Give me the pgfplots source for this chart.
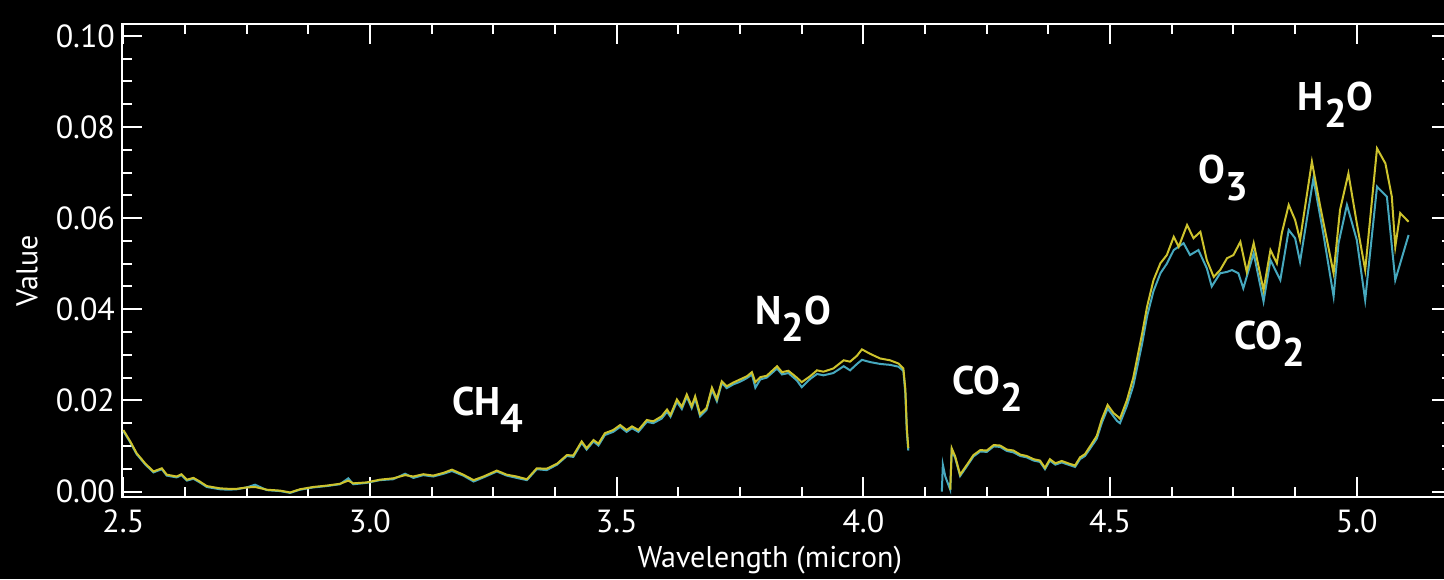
\documentclass[border=0pt]{standalone}
\usepackage{pgfplots}
\usepackage{pgfplotstable}
\pgfplotsset{compat=1.18}
\usetikzlibrary{backgrounds}
\usepackage{fontspec}
\setmainfont{PT Sans}
\definecolor{yel}{RGB}{205,195,45}
\definecolor{cya}{RGB}{70,168,190}
\newcommand{\sub}[1]{\raisebox{-8.5pt}{#1}}

\pgfplotstableread{
x y
2.500 0.0135
2.514 0.0110
2.527 0.0084
2.544 0.0062
2.561 0.0044
2.578 0.0051
2.588 0.0037
2.608 0.0033
2.618 0.0038
2.629 0.0026
2.642 0.0030
2.655 0.0022
2.669 0.0012
2.696 0.0007
2.713 0.0006
2.730 0.0006
2.750 0.0009
2.767 0.0010
2.791 0.0004
2.818 0.0002
2.838 -0.0002
2.858 0.0005
2.885 0.0010
2.912 0.0013
2.939 0.0017
2.956 0.0024
2.966 0.0018
2.993 0.0020
3.020 0.0026
3.047 0.0029
3.071 0.0036
3.088 0.0033
3.108 0.0038
3.128 0.0035
3.149 0.0041
3.166 0.0048
3.189 0.0037
3.210 0.0025
3.230 0.0033
3.257 0.0046
3.277 0.0037
3.297 0.0033
3.318 0.0027
3.338 0.0051
3.358 0.0050
3.379 0.0061
3.399 0.0080
3.412 0.0079
3.429 0.0110
3.439 0.0095
3.453 0.0113
3.463 0.0105
3.476 0.0128
3.493 0.0135
3.507 0.0146
3.520 0.0135
3.531 0.0143
3.544 0.0135
3.561 0.0157
3.574 0.0154
3.591 0.0165
3.602 0.0180
3.609 0.0168
3.622 0.0202
3.632 0.0186
3.642 0.0213
3.652 0.0187
3.659 0.0209
3.669 0.0170
3.682 0.0183
3.693 0.0228
3.703 0.0203
3.713 0.0242
3.723 0.0231
3.736 0.0239
3.750 0.0246
3.764 0.0253
3.774 0.0262
3.781 0.0240
3.791 0.0251
3.804 0.0254
3.825 0.0275
3.835 0.0262
3.848 0.0265
3.865 0.0250
3.875 0.0240
3.892 0.0253
3.906 0.0266
3.919 0.0263
3.939 0.0270
3.960 0.0288
3.973 0.0285
3.987 0.0298
3.997 0.0312
4.014 0.0302
4.034 0.0292
4.054 0.0288
4.071 0.0281
4.081 0.0270
4.085 0.0225
4.088 0.0140
4.091 0.0095
4.120 nan
4.176 0.0004
4.179 0.0095
4.186 0.0077
4.196 0.0037
4.210 0.0059
4.223 0.0080
4.237 0.0091
4.250 0.0090
4.264 0.0102
4.277 0.0101
4.291 0.0092
4.304 0.0090
4.318 0.0081
4.331 0.0078
4.345 0.0071
4.358 0.0068
4.368 0.0052
4.378 0.0071
4.389 0.0062
4.402 0.0067
4.415 0.0062
4.429 0.0057
4.439 0.0075
4.449 0.0082
4.460 0.0100
4.473 0.0122
4.483 0.0158
4.495 0.0190
4.507 0.0172
4.514 0.0166
4.520 0.0160
4.534 0.0200
4.547 0.0250
4.565 0.0347
4.575 0.0406
4.588 0.0464
4.602 0.0501
4.615 0.0519
4.629 0.0559
4.639 0.0537
4.656 0.0585
4.669 0.0556
4.683 0.0570
4.696 0.0508
4.710 0.0471
4.723 0.0486
4.737 0.0512
4.750 0.0519
4.764 0.0548
4.777 0.0482
4.791 0.0545
4.811 0.0442
4.825 0.0530
4.838 0.0501
4.848 0.0567
4.862 0.0629
4.875 0.0596
4.885 0.0552
4.909 0.0724
4.926 0.0625
4.953 0.0479
4.966 0.0618
4.983 0.0698
5.000 0.0589
5.017 0.0486
5.041 0.0753
5.058 0.0720
5.071 0.0647
5.078 0.0537
5.088 0.0611
5.105 0.0592
}\yellowdata

\pgfplotstableread{
x y
2.500 0.0133
2.514 0.0108
2.527 0.0082
2.544 0.0060
2.561 0.0042
2.578 0.0049
2.588 0.0035
2.608 0.0031
2.618 0.0036
2.629 0.0024
2.642 0.0028
2.655 0.0020
2.669 0.0010
2.696 0.0005
2.713 0.0004
2.730 0.0005
2.750 0.0009
2.767 0.0015
2.791 0.0003
2.818 0.0001
2.838 -0.0003
2.858 0.0004
2.885 0.0009
2.912 0.0012
2.939 0.0016
2.956 0.0029
2.966 0.0016
2.993 0.0019
3.020 0.0025
3.047 0.0027
3.071 0.0039
3.088 0.0030
3.108 0.0036
3.128 0.0033
3.149 0.0039
3.166 0.0045
3.189 0.0035
3.210 0.0022
3.230 0.0031
3.257 0.0044
3.277 0.0035
3.297 0.0030
3.318 0.0025
3.338 0.0049
3.358 0.0047
3.379 0.0059
3.399 0.0078
3.412 0.0076
3.429 0.0107
3.439 0.0092
3.453 0.0110
3.463 0.0101
3.476 0.0124
3.493 0.0131
3.507 0.0142
3.520 0.0131
3.531 0.0139
3.544 0.0131
3.561 0.0153
3.574 0.0150
3.591 0.0160
3.602 0.0175
3.609 0.0164
3.622 0.0197
3.632 0.0181
3.642 0.0208
3.652 0.0183
3.659 0.0204
3.669 0.0165
3.682 0.0179
3.693 0.0223
3.703 0.0198
3.713 0.0238
3.723 0.0227
3.736 0.0235
3.750 0.0241
3.764 0.0249
3.774 0.0257
3.781 0.0228
3.791 0.0246
3.804 0.0250
3.825 0.0270
3.835 0.0257
3.848 0.0260
3.865 0.0244
3.875 0.0229
3.892 0.0247
3.906 0.0258
3.919 0.0255
3.939 0.0260
3.960 0.0275
3.973 0.0266
3.987 0.0280
3.997 0.0289
4.014 0.0284
4.034 0.0280
4.054 0.0278
4.071 0.0274
4.081 0.0265
4.085 0.0215
4.088 0.0130
4.091 0.0090
4.120 nan
4.159 0.0000
4.161 0.0059
4.166 0.0033
4.176 0.0004
4.179 0.0090
4.186 0.0074
4.196 0.0034
4.210 0.0056
4.223 0.0077
4.237 0.0088
4.250 0.0087
4.264 0.0099
4.277 0.0098
4.291 0.0089
4.304 0.0086
4.318 0.0078
4.331 0.0075
4.345 0.0068
4.358 0.0065
4.368 0.0049
4.378 0.0068
4.389 0.0059
4.402 0.0064
4.415 0.0059
4.429 0.0054
4.439 0.0071
4.449 0.0078
4.460 0.0095
4.473 0.0116
4.483 0.0150
4.495 0.0182
4.507 0.0165
4.514 0.0155
4.520 0.0150
4.534 0.0188
4.547 0.0232
4.565 0.0325
4.575 0.0385
4.588 0.0440
4.602 0.0479
4.615 0.0500
4.629 0.0530
4.649 0.0545
4.662 0.0519
4.679 0.0530
4.696 0.0490
4.706 0.0450
4.723 0.0479
4.737 0.0482
4.747 0.0486
4.760 0.0479
4.770 0.0446
4.791 0.0523
4.811 0.0417
4.825 0.0508
4.845 0.0464
4.862 0.0574
4.875 0.0556
4.885 0.0504
4.912 0.0687
4.932 0.0567
4.953 0.0428
4.963 0.0545
4.980 0.0629
5.000 0.0552
5.017 0.0420
5.041 0.0669
5.061 0.0647
5.078 0.0464
5.105 0.0563
}\cyandata

\begin{document}
\begin{tikzpicture}
\begin{axis}[
  scale only axis,
  width=665pt, height=236.5pt,
  xmin=2.4973, xmax=5.193,
  ymin=-0.0012, ymax=0.1026,
  axis line style={white, line width=1.2pt},
  tick style={white, line width=1pt},
  major tick length=10pt, minor tick length=5pt,
  tick align=inside,
  xtick={2.5,3.0,3.5,4.0,4.5,5.0},
  ytick={0,0.02,0.04,0.06,0.08,0.10},
  minor x tick num=3, minor y tick num=3,
  scaled y ticks=false,
  /pgf/number format/assume math mode=true,
  tick label style={white, font=\fontsize{16}{18}\selectfont},
  x tick label style={yshift=-3pt, /pgf/number format/.cd, fixed, fixed zerofill, precision=1, /tikz/.cd},
  y tick label style={/pgf/number format/.cd, fixed, fixed zerofill, precision=2, /tikz/.cd},
  xlabel={Wavelength (micron)},
  ylabel={Value},
  label style={white, font=\fontsize{15}{18}\selectfont},
  xlabel style={at={(axis description cs:0.487,0)}, anchor=center, yshift=-31.5pt},
  ylabel style={at={(axis description cs:-0.0714,0.478)}, anchor=center},
  unbounded coords=jump,
]
\addplot[cya, line width=1pt] table[x=x, y=y] {\cyandata};
\addplot[yel, line width=1pt] table[x=x, y=y] {\yellowdata};
\begin{scope}[every node/.style={white, font=\bfseries\fontsize{20}{22}\selectfont, anchor=base west, inner sep=0pt}]
\node at (axis cs:3.166,0.0166) {CH\sub{4}};
\node at (axis cs:3.780,0.0366) {N\sub{2}O};
\node at (axis cs:4.180,0.0212) {CO\sub{2}};
\node at (axis cs:4.679,0.0677) {O\sub{3}};
\node at (axis cs:4.880,0.0837) {H\sub{2}O};
\node at (axis cs:4.752,0.0311) {CO\sub{2}};
\end{scope}
\end{axis}
\pgfresetboundingbox
\begin{scope}[on background layer]
\fill[black] (-61pt,-41pt) rectangle (661pt,248.5pt);
\end{scope}
\useasboundingbox (-61pt,-41pt) rectangle (661pt,248.5pt);
\end{tikzpicture}
\end{document}
